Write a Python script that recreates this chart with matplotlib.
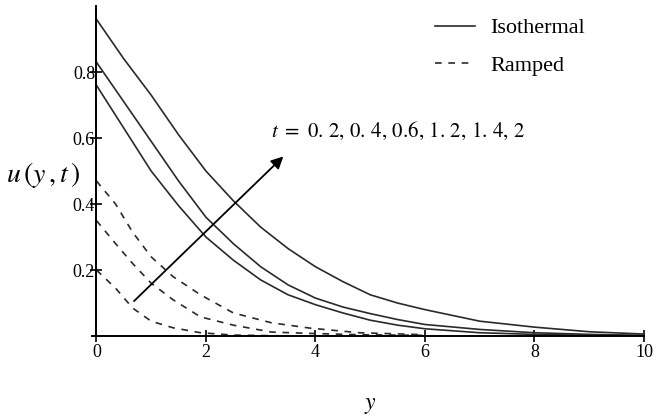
import matplotlib.pyplot as plt

plt.rcParams['font.family'] = ['Liberation Serif', 'DejaVu Serif']
plt.rcParams['mathtext.fontset'] = 'stix'

# isothermal curves (solid)
y_iso = [0, 0.5, 1, 1.5, 2, 2.5, 3, 3.5, 4, 4.5, 5, 5.5, 6, 7, 8, 9, 10]
u_iso_t12 = [0.76, 0.63, 0.50, 0.395, 0.30, 0.23, 0.17, 0.125, 0.095, 0.07, 0.048,
             0.033, 0.022, 0.010, 0.005, 0.002, 0.001]
u_iso_t14 = [0.83, 0.71, 0.59, 0.47, 0.36, 0.28, 0.21, 0.155, 0.115, 0.088, 0.068,
             0.05, 0.035, 0.020, 0.010, 0.005, 0.002]
u_iso_t2 = [0.96, 0.84, 0.73, 0.61, 0.50, 0.41, 0.33, 0.265, 0.21, 0.165, 0.125,
            0.10, 0.080, 0.045, 0.027, 0.013, 0.006]

# ramped curves (dashed)
y_ramp = [0, 0.35, 0.66, 1.0, 1.4, 1.9, 2.5, 3.2, 3.9, 4.8, 6.0]
u_ramp_t06 = [0.47, 0.40, 0.315, 0.24, 0.18, 0.125, 0.07, 0.04, 0.024, 0.01, 0.004]
u_ramp_t04 = [0.35, 0.28, 0.22, 0.16, 0.11, 0.058, 0.033, 0.012, 0.008, 0.004, 0.002]
u_ramp_t02 = [0.20, 0.145, 0.085, 0.045, 0.025, 0.01, 0.003, 0.001, 0.0, 0.0, 0.0]

t_values = ['0.\\,2', '0.\\,4', '0.6', '1.\\,2', '1.\\,4', '2']

col = '#2a2a2a'
fig = plt.figure(figsize=(6.64, 4.19), dpi=100)
ax = fig.add_axes([0.1386, 0.198, 0.8313, 0.7876])

ax.plot(y_iso, u_iso_t12, color=col, lw=1.2, label='Isothermal')
ax.plot(y_iso, u_iso_t14, color=col, lw=1.2)
ax.plot(y_iso, u_iso_t2, color=col, lw=1.2)
ax.plot(y_ramp, u_ramp_t06, color=col, lw=1.2, dashes=(4, 4), label='Ramped')
ax.plot(y_ramp, u_ramp_t04, color=col, lw=1.2, dashes=(4, 4))
ax.plot(y_ramp, u_ramp_t02, color=col, lw=1.2, dashes=(4, 4))

# arrow showing increasing t
ax.annotate('', xy=(3.45, 0.55), xytext=(0.65, 0.10),
            arrowprops=dict(arrowstyle='-|>', color='black', lw=1.3,
                            mutation_scale=18))
ax.text(3.18, 0.62, '$t\\ =\\ ' + ',\\,'.join(t_values) + '$',
        fontsize=15, va='center', ha='left')

ax.set_xlim(-0.08, 10)
ax.set_ylim(0, 1.0)
ax.spines['left'].set_position(('data', 0))
ax.spines['right'].set_visible(False)
ax.spines['top'].set_visible(False)
ax.spines['left'].set_linewidth(1.4)
ax.spines['bottom'].set_linewidth(1.4)

ax.set_xticks([0, 2, 4, 6, 8, 10])
ax.set_yticks([0.2, 0.4, 0.6, 0.8])
ax.set_yticklabels(['0.2', '0.4', '0.6', '0.8'])
ax.tick_params(direction='inout', length=8, width=1.2, labelsize=13)
ax.tick_params(axis='y', pad=-3)
ax.tick_params(axis='x', pad=2)

ax.legend(loc='upper left', bbox_to_anchor=(0.585, 1.025), frameon=False,
          fontsize=16, handlelength=1.8, handletextpad=0.7, labelspacing=0.75)

fig.text(43 / 664, 1 - 175 / 419, '$u\\,(y\\,,t\\,)$', fontsize=20,
         ha='center', va='center')
fig.text(370 / 664, 1 - 405 / 419, '$y$', fontsize=17, ha='center', va='center')

fig.savefig('out.png', dpi=100)
